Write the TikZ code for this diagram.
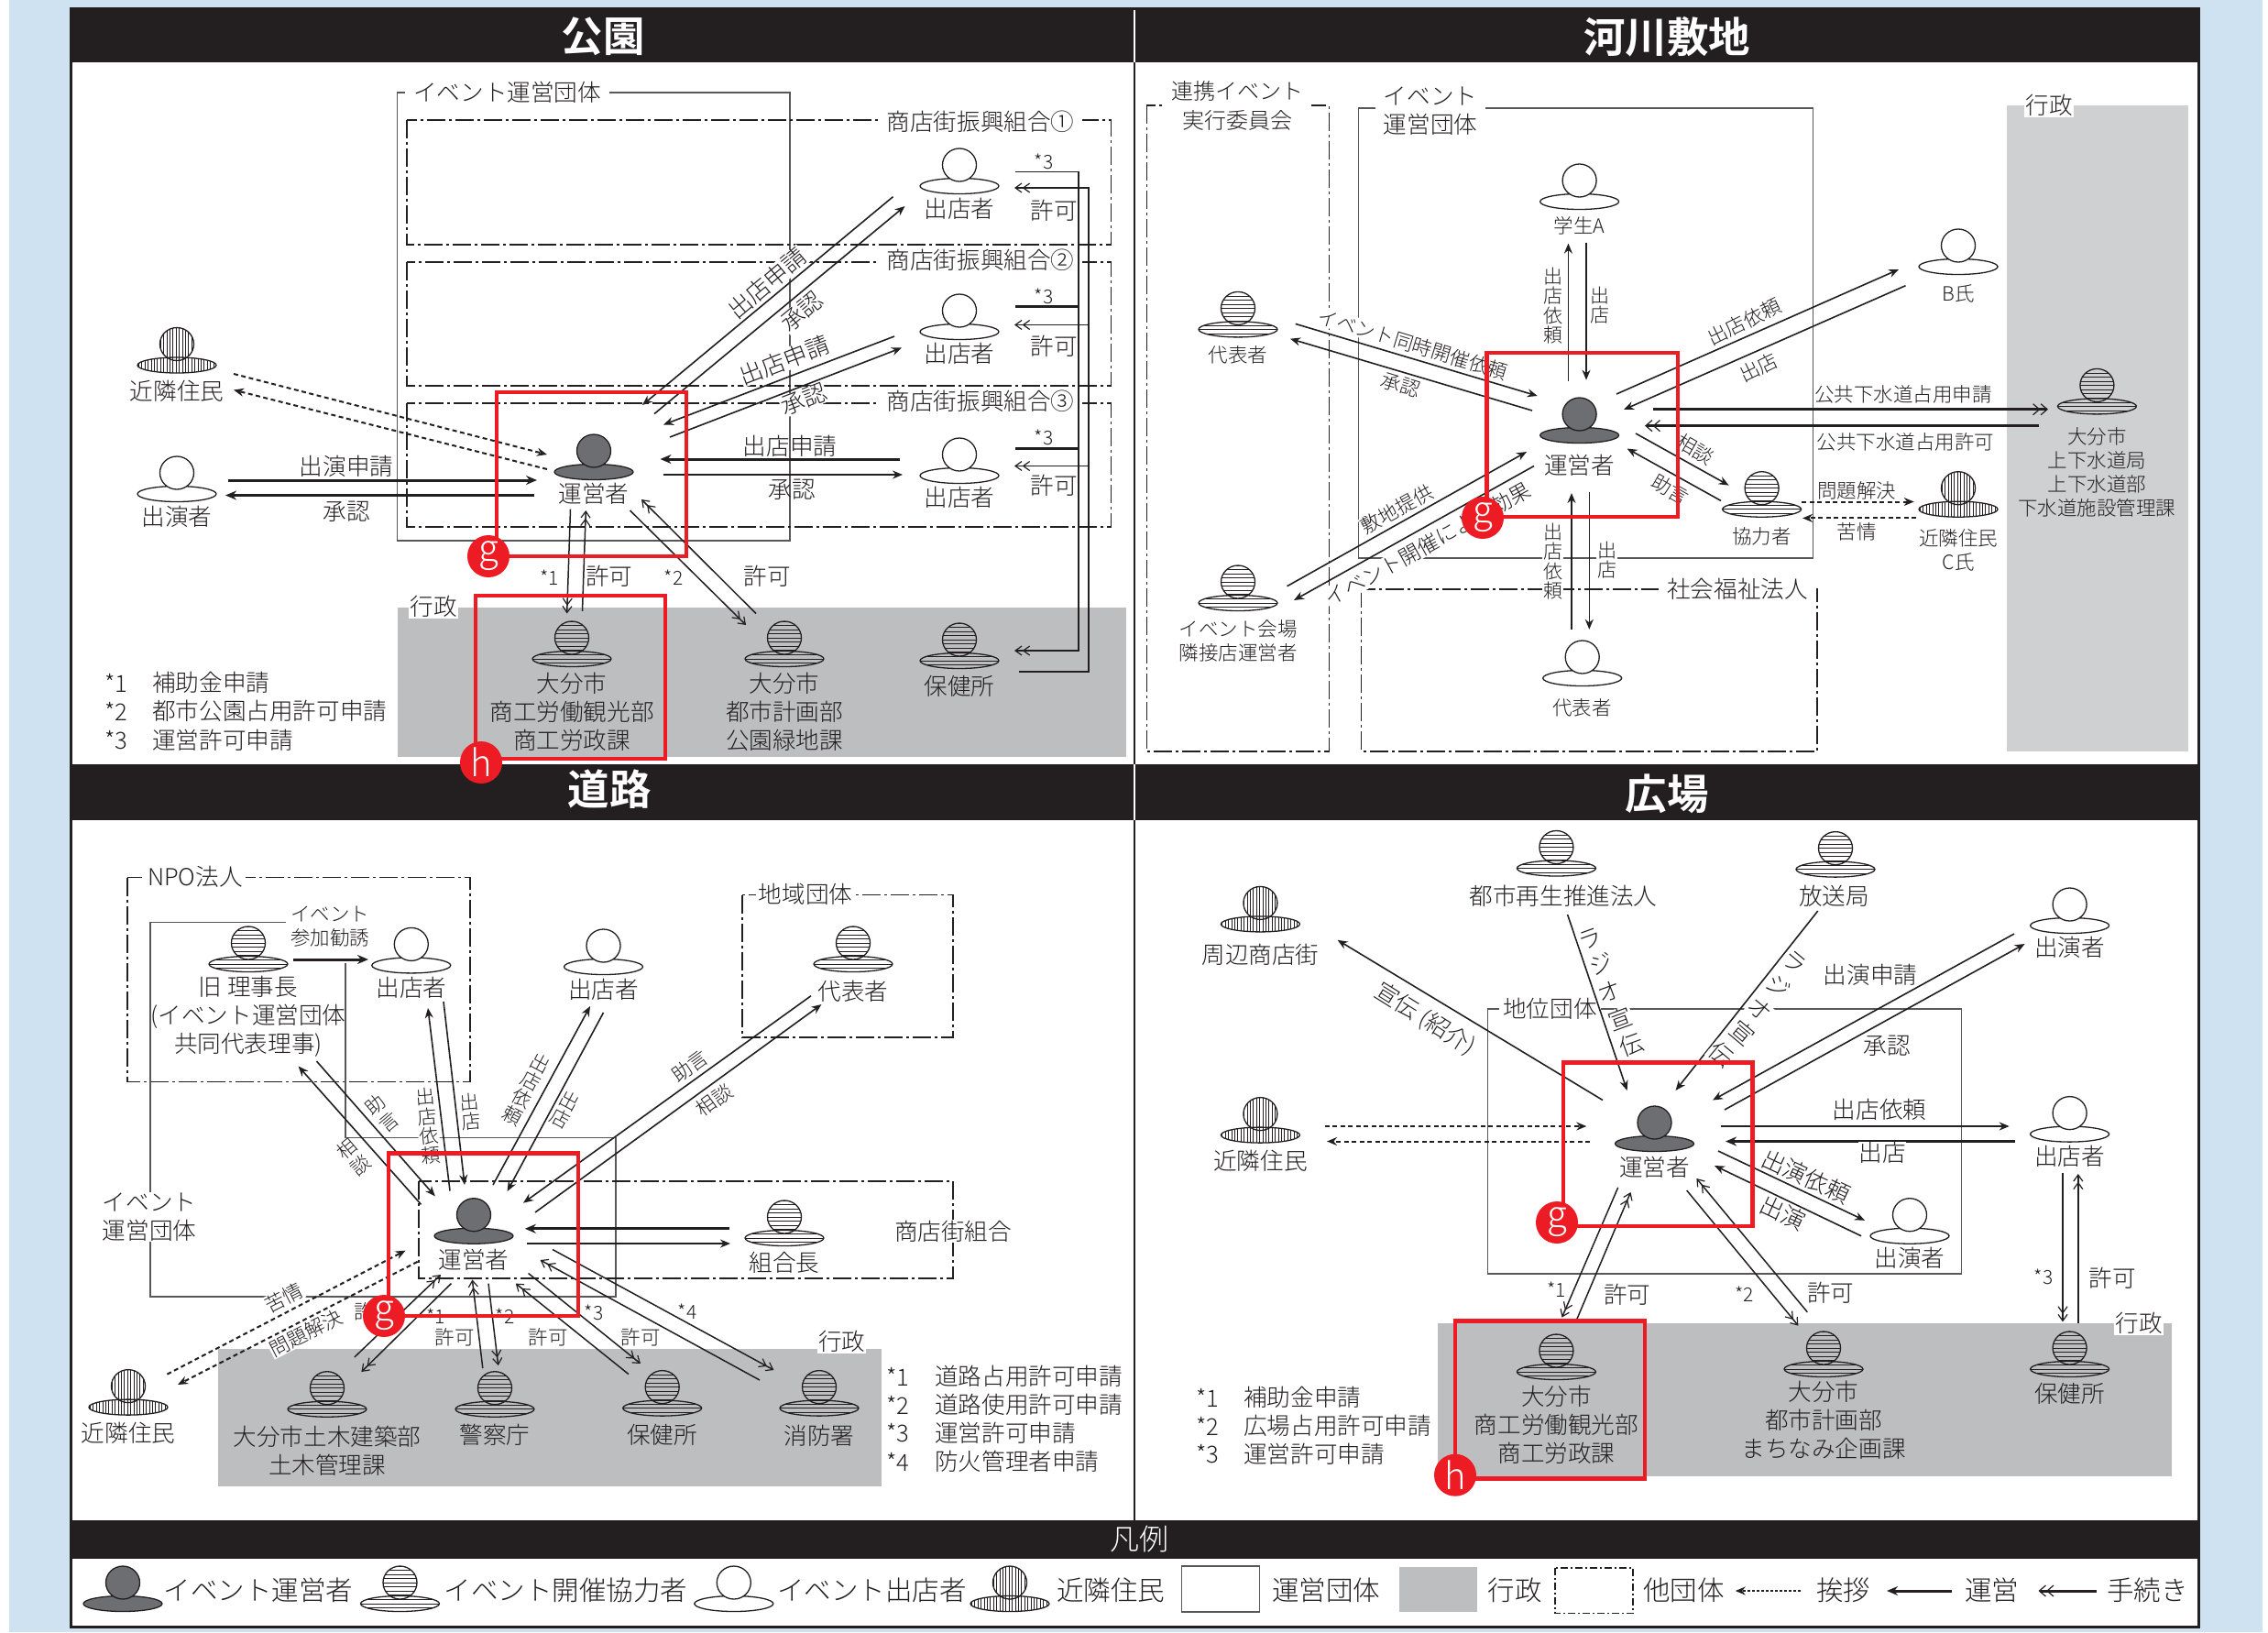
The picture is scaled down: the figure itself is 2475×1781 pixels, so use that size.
\documentclass[tikz,border=0pt]{standalone}
\usepackage{fontspec}
\setmainfont{Noto Sans CJK JP Light}[BoldFont={Noto Sans CJK JP Bold}]
\usetikzlibrary{arrows.meta,shapes.geometric}
\definecolor{ink}{HTML}{231F20}
\definecolor{pagebg}{HTML}{CFE2F1}
\definecolor{adm}{HTML}{BCBEC0}
\definecolor{admb}{HTML}{CFD0D2}
\definecolor{opfill}{HTML}{6D6E71}
\definecolor{redm}{HTML}{ED1C24}
\tikzset{
 t25/.style={font=\fontsize{25.6}{31}\selectfont,text=ink,inner sep=1pt,align=center},
 t21/.style={font=\fontsize{21.5}{26}\selectfont,text=ink,inner sep=1pt,align=center},
 t19/.style={font=\fontsize{21}{23}\selectfont,text=ink,inner sep=0pt},
 t30/.style={font=\fontsize{29.5}{32}\selectfont,text=ink,inner sep=0pt,anchor=west},
 vert/.style={font=\fontsize{21}{21.5}\selectfont,text=ink,inner sep=1pt,align=center,fill=white},
 vertw/.style={font=\fontsize{21}{24}\selectfont,text=ink,inner sep=0pt,align=center},
 title/.style={font=\bfseries\fontsize{45.5}{48}\selectfont,text=white,inner sep=0pt},
 wf/.style={fill=white,inner sep=0.5pt},
 lab/.style={t25,fill=white,inner xsep=9pt,inner ysep=1pt},
 note/.style={t25,anchor=west},
 grp/.style={draw=ink!75,line width=1.5pt},
 oth/.style={draw=ink,line width=1.5pt,dash pattern=on 20pt off 4pt on 3pt off 4pt},
 run/.style={draw=ink,line width=1.6pt,-{Stealth[length=11pt,width=9pt]}},
 runt/.style={draw=ink,line width=3pt,-{Stealth[length=12pt,width=10pt]}},
 proc/.style={draw=ink,line width=1.5pt,-{Straight Barb[length=7pt,width=10pt,line width=1.2pt] Straight Barb[length=7pt,width=10pt,line width=1.2pt]}},
 proct/.style={draw=ink,line width=3pt,-{Straight Barb[length=7pt,width=12pt,line width=1.2pt] Straight Barb[length=7pt,width=12pt,line width=1.2pt]}},
 greet/.style={draw=ink,line width=2pt,dash pattern=on 5pt off 3.5pt,-{Stealth[length=11pt,width=9pt,sep=0pt]}},
 bodyb/.style={shape=ellipse,draw=ink,line width=1.3pt,minimum width=86pt,minimum height=17pt,inner sep=0pt},
 headb/.style={shape=ellipse,draw=ink,line width=1.3pt,minimum width=37pt,minimum height=36pt,inner sep=0pt},
 op/.style={fill=opfill},
 co/.style={path picture={\foreach \yy in {-18,-13.5,...,18}{\draw[ink,line width=.8pt] ([shift={(-50pt,\yy pt)}]path picture bounding box.center) -- ([shift={(50pt,\yy pt)}]path picture bounding box.center);}}},
 sh/.style={fill=white},
 ne/.style={path picture={\foreach \xx in {-45,-41.6,...,45}{\draw[ink,line width=.7pt] ([shift={(\xx pt,-20pt)}]path picture bounding box.center) -- ([shift={(\xx pt,20pt)}]path picture bounding box.center);}}},
 redbox/.style={draw=redm,line width=4.5pt},
 badge/.style={shape=circle,fill=redm,minimum size=46pt,inner sep=0pt,text=white,font=\fontsize{40}{40}\selectfont},
}
\newcounter{cn}
\newcommand\arw[3]{\stepcounter{cn}\coordinate (c\thecn s) at (#2);\coordinate (c\thecn e) at (#3);\draw[#1] (c\thecn s) -- (c\thecn e);}
\newcounter{tn}
\newcommand\tx[3]{\stepcounter{tn}\node[#1] (t\thetn) at (#2) {#3};}
% \pers{style}{name}{x}{y}
\newcommand\pers[4]{\node[bodyb,#1] (#2) at (#3,#4) {};\node[headb,#1] (#2h) at (#3,#4-23) {};}
\begin{document}
\begin{tikzpicture}[x=1pt,y=-1pt]
\useasboundingbox (0,0) rectangle (2475,1781);
\fill[pagebg] (10,0) rectangle (2469,1781);
\fill[white] (77,9) rectangle (2399,1775);
% ---- headers
\fill[ink] (77,9) rectangle (2399,68);
\fill[ink] (77,834) rectangle (2399,895);
\fill[ink] (77,1659) rectangle (2399,1701);
\draw[white,line width=1.5pt] (1238,9) -- (1238,68);
\draw[white,line width=1.5pt] (1238,834) -- (1238,895);
\draw[ink,line width=2.5pt] (1238,68) -- (1238,834);
\draw[ink,line width=2.5pt] (1238,895) -- (1238,1659);
\draw[ink,line width=3pt] (77,9) rectangle (2399,1775);
\tx{title}{658,40}{公園}
\tx{title}{1819,40}{河川敷地}
\tx{title}{665,861}{道路}
\tx{title}{1819,866}{広場}
\tx{font=\fontsize{32}{32}\selectfont,text=white,inner sep=0pt}{1243,1679}{凡例}
%% ================ PANEL 1
\fill[adm] (433.5,662.5) rectangle (1229,826);
\draw[grp] (433.5,101) rectangle (862,590);
\draw[oth] (444,131) rectangle (1212.5,267);
\draw[oth] (444,286) rectangle (1212.5,421);
\draw[oth] (444,440) rectangle (1212.5,575);
\tx{lab}{553.6,101}{イベント運営団体}
\tx{lab}{1070,133}{商店街振興組合①}
\tx{lab}{1070,284}{商店街振興組合②}
\tx{lab}{1070,438}{商店街振興組合③}
\tx{t25,fill=white}{473,662}{行政}
\pers{sh}{p1a}{1047}{203}
\pers{sh}{p1b}{1047}{362}
\pers{sh}{p1c}{1047}{519}
\pers{op}{p1op}{648}{515}
\pers{sh}{p1per}{193}{539}
\pers{ne}{p1ne}{193}{398.5}
\pers{co}{p1x}{624}{719}
\pers{co}{p1y}{856}{719}
\pers{co}{p1z}{1047}{721}
\tx{t25}{1047,228}{出店者}
\tx{t25}{1047,386}{出店者}
\tx{t25}{1047,543}{出店者}
\tx{t25}{648,539}{運営者}
\tx{t25}{193,564}{出演者}
\tx{t25}{193,427}{近隣住民}
\tx{t25}{624,777}{大分市\\商工労働観光部\\商工労政課}
\tx{t25}{856,777}{大分市\\都市計画部\\公園緑地課}
\tx{t25}{1047,749}{保健所}
\arw{greet}{255,408}{597,496}
\arw{greet}{597,512}{255,425.5}
\arw{runt}{249,524}{586,524}
\arw{runt}{583,540.5}{246,540.5}
\arw{run}{974.5,214.7}{701,442}
\arw{run}{714,451.6}{987.5,225}
\arw{run}{976,367}{724,463.5}
\arw{run}{731,477}{984,379.5}
\arw{runt}{982,501}{720.5,501}
\arw{run}{723.5,518}{985,518}
\arw{proc}{622.5,555.7}{618.7,669.5}
\arw{proc}{635.5,666.8}{639.3,557}
\arw{proc}{687.5,557}{814,682}
\arw{proc}{825,669.5}{700,545}
\stepcounter{cn}
\coordinate (c\thecn a) at (1108,187.6);\coordinate (c\thecn b) at (1177,187.6);\coordinate (c\thecn c) at (1177,710);\coordinate (c\thecn d) at (1107,710);
\draw[proc] (c\thecn a) -- (c\thecn b) -- (c\thecn c) -- (c\thecn d);
\stepcounter{cn}
\coordinate (c\thecn a) at (1112,733);\coordinate (c\thecn b) at (1188,733);\coordinate (c\thecn c) at (1188,205);\coordinate (c\thecn d) at (1107,205);
\draw[proc] (c\thecn a) -- (c\thecn b) -- (c\thecn c) -- (c\thecn d);
\arw{draw=ink,line width=3pt}{1108,334.5}{1177,334.5}
\arw{proc}{1188,354.5}{1107,354.5}
\arw{draw=ink,line width=3pt}{1108,489.5}{1177,489.5}
\arw{proc}{1188,508.5}{1107,508.5}
\tx{t19}{1139,176}{*3}
\tx{t19}{1139,323}{*3}
\tx{t19}{1139,477}{*3}
\tx{t25}{1150.5,230}{許可}
\tx{t25}{1150.5,378}{許可}
\tx{t25}{1150.5,530}{許可}
\tx{t25,wf,rotate=40}{837,309}{出店申請}
\tx{t25,wf,rotate=40}{875,340}{承認}
\tx{t25,wf,rotate=21}{856,393}{出店申請}
\tx{t25,wf,rotate=21}{877,436}{承認}
\tx{t25}{862,487}{出店申請}
\tx{t25}{864,534}{承認}
\tx{t25}{378,508.5}{出演申請}
\tx{t25}{378,558}{承認}
\tx{t19}{599.5,630}{*1}
\tx{t25}{664.6,629}{許可}
\tx{t19}{735,630}{*2}
\tx{t25}{837,629}{許可}
\tx{note}{113,745}{*1}
\tx{note}{165,745}{補助金申請}
\tx{note}{113,776}{*2}
\tx{note}{165,776}{都市公園占用許可申請}
\tx{note}{113,808}{*3}
\tx{note}{165,808}{運営許可申請}
\draw[redbox] (542,428) rectangle (749,607);
\draw[redbox] (519,650) rectangle (726,828);
\node[badge] (g1) at (533,607) {g};
\node[badge] (h1) at (525,832) {h};
%% ================ PANEL 2
\fill[admb] (2189.7,115) rectangle (2388,820);
\draw[oth] (1251.4,115) rectangle (1450.4,820);
\draw[grp] (1482.5,118) rectangle (1978.5,609);
\draw[oth] (1485.6,643) rectangle (1983,820);
\tx{lab,font=\fontsize{24}{32}\selectfont}{1350,115}{連携イベント\\実行委員会}
\tx{lab}{1561,121}{イベント\\運営団体}
\tx{lab}{1896,643}{社会福祉法人}
\tx{t25,fill=white}{2236,115}{行政}
\pers{sh}{p2s}{1723.6}{220}
\pers{sh}{p2b}{2137}{291}
\pers{co}{p2d}{1351}{359.4}
\pers{op}{p2op}{1723.6}{475}
\pers{co}{p2k}{1922.6}{555.7}
\pers{ne}{p2c}{2137}{555.7}
\pers{co}{p2o}{2288.4}{443.4}
\pers{co}{p2e}{1351}{658}
\pers{sh}{p2r}{1726.7}{740}
\tx{t21}{1723.6,246.7}{学生A}
\tx{t21}{2137,320}{B氏}
\tx{t21}{1351,387.6}{代表者}
\tx{t25}{1723.6,508}{運営者}
\tx{t21}{1922.6,585.5}{協力者}
\tx{t21}{2137,600}{近隣住民\\C氏}
\tx{t21}{2288.4,515}{大分市\\上下水道局\\上下水道部\\下水道施設管理課}
\tx{t21}{1351,699}{イベント会場\\隣接店運営者}
\tx{t21}{1726.7,772.5}{代表者}
\arw{run}{1413.7,353.4}{1677.7,432}
\arw{run}{1672,448}{1408,369.7}
\arw{run}{1711.4,416}{1711.4,265.6}
\arw{run}{1731,264.5}{1731,414.7}
\arw{run}{1764,430}{2072,294}
\arw{run}{2079.5,311.7}{1772,447}
\arw{proct}{1804,446.7}{2235,446.7}
\arw{proct}{2225,464.6}{1795,464.6}
\arw{run}{1785,473}{1886.6,529.6}
\arw{run}{1878,546.4}{1775.6,489.5}
\arw{greet}{1966,547.5}{2088.7,547.5}
\arw{greet}{2091,565.4}{1967,565.4}
\arw{run}{1404.5,639.7}{1666,493}
\arw{run}{1674,508.5}{1412,655}
\arw{run}{1715,687}{1715,538}
\arw{run}{1734.3,536.7}{1734.3,686.8}
\tx{vert}{1694.5,333.4}{出\\店\\依\\頼}
\tx{vert}{1746,333}{出\\店}
\tx{vert}{1694.5,612.6}{出\\店\\依\\頼}
\tx{vert}{1753.5,611}{出\\店}
\tx{t21,wf,rotate=-17}{1542,375.7}{イベント同時開催依頼}
\tx{t21,wf,rotate=-17}{1528.5,420}{承認}
\tx{t21,wf,rotate=29}{1524.6,555.7}{敷地提供}
\tx{t21,wf,rotate=29,font=\fontsize{23}{26}\selectfont}{1558,594}{イベント開催による効果}
\tx{t21,wf,rotate=26}{1903.5,351}{出店依頼}
\tx{t21,wf,rotate=26}{1919,401}{出店}
\tx{t21,wf}{2077,430.4}{公共下水道占用申請}
\tx{t21,wf}{2079.5,482.5}{公共下水道占用許可}
\tx{t21,rotate=-30}{1850,490.6}{相談}
\tx{t21,rotate=-30}{1823,534}{助言}
\tx{t21,wf}{2026,535}{問題解決}
\tx{t21}{2026,580}{苦情}
\draw[redbox] (1622.6,385) rectangle (1830.8,564);
\node[badge] (g2) at (1618,565) {g};
%% ================ PANEL 3
\fill[adm] (237.5,1472) rectangle (961.5,1622.4);
\draw[oth] (138.8,957.6) rectangle (513,1180.4);
\draw[grp] (312,1006.3) -- (164,1006.3) -- (164,1415) -- (672,1415) -- (672,1241.3) -- (376.8,1241.3) -- (376.8,1051);
\draw[oth] (457,1289) rectangle (1040,1395);
\draw[oth] (810,976.6) rectangle (1040,1132);
\tx{lab,inner xsep=3pt}{213,957}{NPO法人}
\tx{lab,inner xsep=3pt}{163,1328}{イベント\\運営団体}
\tx{t21}{360,1011}{イベント\\参加勧誘}
\tx{lab,inner xsep=3pt}{1040,1343.4}{商店街組合}
\tx{lab,inner xsep=3pt}{879,976}{地域団体}
\tx{t25,fill=white}{918.6,1464}{行政}
\pers{co}{p3j}{271}{1052}
\pers{sh}{p3a}{448.8}{1053.4}
\pers{sh}{p3b}{658.5}{1055}
\pers{co}{p3d}{931}{1052}
\pers{op}{p3op}{517}{1348.7}
\pers{co}{p3k}{856}{1351}
\pers{ne}{p3n}{140}{1535.6}
\pers{co}{p3r}{357}{1537.7}
\pers{co}{p3s}{540}{1537.7}
\pers{co}{p3h}{722.7}{1536.6}
\pers{co}{p3f}{894}{1536.6}
\tx{t25}{271,1109}{旧 理事長\\(イベント運営団体\\共同代表理事)}
\tx{t25}{448.8,1077.7}{出店者}
\tx{t25}{658.5,1080}{出店者}
\tx{t25}{931,1081.4}{代表者}
\tx{t25}{517,1375}{運営者}
\tx{t25}{856,1378}{組合長}
\tx{t25}{140,1564}{近隣住民}
\tx{t25}{357,1583}{大分市土木建築部\\土木管理課}
\tx{t25}{540,1565.7}{警察庁}
\tx{t25}{722.7,1565.7}{保健所}
\tx{t25}{894,1566.5}{消防署}
\arw{runt}{320,1047}{402,1047}
\arw{run}{345.5,1158}{474.8,1305.3}
\arw{run}{459.5,1314.3}{325.6,1163.5}
\arw{run}{491,1299.5}{467,1100}
\arw{run}{484,1093}{507,1293}
\arw{run}{538,1293}{644,1098}
\arw{run}{658.5,1105}{553.6,1300}
\arw{run}{885,1086.7}{571,1312.7}
\arw{run}{584,1323}{896.5,1096}
\arw{runt}{796,1340.8}{572.8,1340.8}
\arw{run}{575,1357}{797,1357}
\arw{greet}{182.4,1499.6}{442.6,1364.6}
\arw{greet}{455.7,1376.8}{194,1511}
\arw{proc}{386.8,1481}{481,1391}
\arw{proc}{492.4,1400.6}{394.4,1497}
\arw{proc}{526.8,1493}{515.4,1396.4}
\arw{proc}{533,1400.6}{543.7,1490}
\arw{proc}{686,1499.6}{562.8,1400.6}
\arw{proc}{576.6,1389.5}{699,1488}
\arw{proc}{829,1506}{589.6,1375}
\arw{proc}{603,1363.5}{844.4,1495}
\tx{vert,rotate=5}{467,1229}{出\\店\\依\\頼}
\tx{vert,rotate=5}{513.3,1213}{出\\店}
\tx{vertw,rotate=40}{416.7,1215}{助\\言}
\tx{vertw,rotate=40}{385.7,1262.7}{相\\談}
\tx{vert,rotate=-28}{574.8,1188.5}{出\\店\\依\\頼}
\tx{vert,rotate=-28}{616.7,1211}{出\\店}
\tx{t21,wf,rotate=36}{752.6,1163.5}{助言}
\tx{t21,wf,rotate=36}{779.4,1200.5}{相談}
\tx{t21,wf,rotate=27}{310,1416}{苦情}
\tx{t21,wf,rotate=27}{334,1454.6}{問題解決}
\tx{t19}{475.6,1436}{*1}
\tx{t21}{408,1431}{許可}
\tx{t21}{496,1459}{許可}
\tx{t19}{551,1436}{*2}
\tx{t21}{598,1459}{許可}
\tx{t19}{648,1432}{*3}
\tx{t21}{699,1459}{許可}
\tx{t19}{750,1431}{*4}
\tx{note}{966,1502}{*1}
\tx{note}{1019,1502}{道路占用許可申請}
\tx{note}{966,1533}{*2}
\tx{note}{1019,1533}{道路使用許可申請}
\tx{note}{966,1564}{*3}
\tx{note}{1019,1564}{運営許可申請}
\tx{note}{966,1595}{*4}
\tx{note}{1019,1595}{防火管理者申請}
\draw[redbox] (424,1258.7) rectangle (631,1436);
\node[badge] (g3) at (419,1436) {g};
%% ================ PANEL 4
\fill[adm] (1569,1444) rectangle (2370,1610.7);
\draw[grp] (1623.4,1101) rectangle (2140.7,1390);
\tx{lab,inner xsep=4pt}{1691.5,1101}{地位団体}
\tx{t25,fill=white}{2334,1444}{行政}
\pers{co}{p4t}{1698.4}{947.5}
\pers{co}{p4h}{2003}{948.6}
\pers{ne}{p4s}{1375.4}{1008.4}
\pers{sh}{p4e}{2258.6}{1010}
\pers{ne}{p4n}{1375.4}{1238.6}
\pers{op}{p4op}{1805.5}{1248}
\pers{sh}{p4m}{2258.6}{1237.6}
\pers{sh}{p4l}{2084}{1348.7}
\pers{co}{p4x}{1698.4}{1497}
\pers{co}{p4y}{1990}{1494}
\pers{co}{p4z}{2258.6}{1494}
\tx{t25}{1706,978}{都市再生推進法人}
\tx{t25}{2001.4,978}{放送局}
\tx{t25}{1375.4,1041.7}{周辺商店街}
\tx{t25}{2258.6,1033.8}{出演者}
\tx{t25}{1375.4,1266.7}{近隣住民}
\tx{t25}{1805.5,1273.6}{運営者}
\tx{t25}{2258.6,1261.4}{出店者}
\tx{t25}{2084,1372.5}{出演者}
\tx{t25}{1698.4,1555}{大分市\\商工労働観光部\\商工労政課}
\tx{t25}{1990,1550}{大分市\\都市計画部\\まちなみ企画課}
\tx{t25}{2258.6,1520.7}{保健所}
\arw{run}{1749,1200.5}{1459.6,1025.8}
\arw{run}{1710.6,998}{1775.6,1190}
\arw{run}{1983.8,994}{1828.5,1190}
\arw{run}{2198,1019}{1869,1200.5}
\arw{run}{1882,1211}{2209.6,1030}
\arw{run}{1878,1229}{2192.7,1229}
\arw{runt}{2199,1245.5}{1883,1245.5}
\arw{run}{1875,1256}{2035,1331.8}
\arw{run}{2031,1348.7}{1871,1272}
\arw{greet}{1445.8,1229}{1731.3,1229}
\arw{greet}{1735,1245.5}{1448,1245.5}
\arw{proc}{1765.7,1295.8}{1704.5,1437.6}
\arw{proc}{1720.6,1440}{1779.5,1301}
\arw{proc}{1840.7,1299}{1962.4,1446.6}
\arw{proc}{1972.3,1431.8}{1851.4,1286}
\arw{proc}{2251,1280}{2251,1442.4}
\arw{proc}{2267.8,1444}{2267.8,1281}
\tx{t25,wf,rotate=20}{1735,1025}{ラ}
\tx{t25,wf,rotate=20}{1746.7,1051.7}{ジ}
\tx{t25,wf,rotate=20}{1756.7,1081.7}{オ}
\tx{t25,wf,rotate=20}{1768.3,1111.7}{宣}
\tx{t25,wf,rotate=20}{1780,1140}{伝}
\tx{t25,wf,rotate=-40}{1958,1050}{ラ}
\tx{t25,wf,rotate=-40}{1941,1076.7}{ジ}
\tx{t25,wf,rotate=-40}{1920,1101.7}{オ}
\tx{t25,wf,rotate=-40}{1901.7,1126.7}{宣}
\tx{t25,wf,rotate=-40}{1878,1150}{伝}
\tx{t25,wf,rotate=-32}{1555,1112}{宣伝 (紹介)}
\tx{t25,wf}{2041,1064}{出演申請}
\tx{t25,wf}{2059,1141}{承認}
\tx{t25,wf}{2051,1211}{出店依頼}
\tx{t25,wf}{2054,1257.7}{出店}
\tx{t25,wf,rotate=-25}{1971,1284}{出演依頼}
\tx{t25,wf,rotate=-25}{1945.6,1324}{出演}
\tx{t19}{1698.4,1407}{*1}
\tx{t25}{1775.6,1413}{許可}
\tx{t19}{1903.5,1412}{*2}
\tx{t25}{1997.6,1411}{許可}
\tx{t19}{2230,1393.7}{*3}
\tx{t25}{2305,1395}{許可}
\tx{note}{1304,1525}{*1}
\tx{note}{1356,1525}{補助金申請}
\tx{note}{1304,1556}{*2}
\tx{note}{1356,1556}{広場占用許可申請}
\tx{note}{1304,1587}{*3}
\tx{note}{1356,1587}{運営許可申請}
\draw[redbox] (1706,1159.7) rectangle (1912.6,1338);
\draw[redbox] (1588,1441.3) rectangle (1795,1613.4);
\node[badge] (g4) at (1699,1334) {g};
\node[badge] (h4) at (1588,1609.7) {h};
%% ================ LEGEND
\pers{op}{l1}{134}{1750}
\tx{t30}{178.6,1735}{イベント運営者}
\pers{co}{l2}{436.5}{1750}
\tx{t30}{484.7,1735}{イベント開催協力者}
\pers{sh}{l3}{800.8}{1750}
\tx{t30}{848,1735}{イベント出店者}
\pers{ne}{l4}{1102}{1750}
\tx{t30}{1153,1735}{近隣住民}
\draw[grp] (1289.6,1709) rectangle (1374.7,1759);
\tx{t30}{1388,1735}{運営団体}
\fill[adm] (1526.7,1710) rectangle (1611.7,1759);
\tx{t30}{1623.6,1735}{行政}
\draw[oth,dash pattern=on 8pt off 3pt on 2pt off 3pt] (1696.8,1711) rectangle (1782,1760.7);
\tx{t30}{1793,1735}{他団体}
\arw{greet,dash pattern=on 3pt off 2pt}{1964.6,1736}{1893.7,1736}
\tx{t30}{1982,1735}{挨拶}
\arw{runt}{2130,1736}{2059,1736}
\tx{t30}{2144,1735}{運営}
\arw{proct}{2287.5,1736}{2224.5,1736}
\tx{t30}{2299,1735}{手続き}
\end{tikzpicture}
\end{document}
